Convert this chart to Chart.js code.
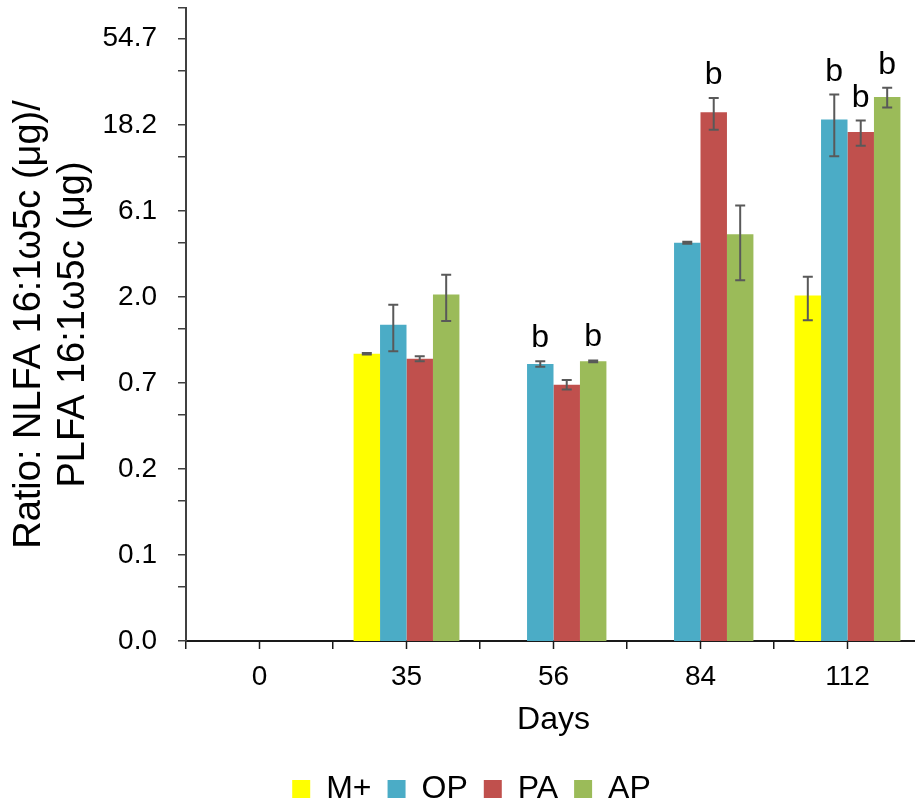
<!DOCTYPE html>
<html>
<head>
<meta charset="utf-8">
<script src="https://cdn.jsdelivr.net/npm/chart.js@4.4.1/dist/chart.umd.min.js"></script>
<style>
html, body { margin: 0; padding: 0; overflow: hidden; background: #fff; }
#wrap { width: 930px; height: 815px; }
</style>
</head>
<body>
<div id="wrap"><canvas id="ratioChart"></canvas></div>
<script>
const days = ['0', '35', '56', '84', '112'];
const seriesNames = ['M+', 'OP', 'PA', 'AP'];
const seriesColors = ['#FFFF00', '#4BACC6', '#C0504D', '#9BBB59'];

// means
const mPlus = [null, 0.98, null, null, 2.06];
const op = [null, 1.42, 0.86, 4.04, 19.5];
const pa = [null, 0.92, 0.66, 21.4, 16.6];
const ap = [null, 2.09, 0.89, 4.5, 26.0];

// error (+/-)
const mPlusErr = [null, 0.01, null, null, 0.56];
const opErr = [null, 0.41, 0.03, 0.05, 7.3];
const paErr = [null, 0.03, 0.04, 4.3, 2.65];
const apErr = [null, 0.6, 0.01, 2.0, 3.3];

// significance letters
const mPlusSig = ['', '', '', '', ''];
const opSig = ['', '', 'b', '', 'b'];
const paSig = ['', '', '', 'b', 'b'];
const apSig = ['', '', 'b', '', 'b'];

const yTickValues = [0.025, 0.075, 0.225, 0.675, 2.025, 6.075, 18.225, 54.675];
const yTickLabels = ['0.0', '0.1', '0.2', '0.7', '2.0', '6.1', '18.2', '54.7'];
const yMinorTicks = [0.05, 0.15, 0.45, 1.35, 4.05, 12.15, 36.45, 81];
const yMin = 0.025;
const yMax = 81;

const FONT = "'Liberation Sans', Arial, sans-serif";

const values = [mPlus, op, pa, ap];
const errors = [mPlusErr, opErr, paErr, apErr];
const letters = [mPlusSig, opSig, paSig, apSig];

const errorBars = {
  id: 'errorBars',
  afterDatasetsDraw(chart) {
    const ctx = chart.ctx;
    const yScale = chart.scales.y;
    const xScale = chart.scales.x;
    const area = chart.chartArea;
    ctx.save();
    // tick marks under each category centre
    ctx.strokeStyle = '#1a1a1a';
    ctx.lineWidth = 1.5;
    days.forEach((d, i) => {
      const x = xScale.getPixelForValue(i);
      ctx.beginPath();
      ctx.moveTo(x, area.bottom);
      ctx.lineTo(x, area.bottom + 8);
      ctx.stroke();
    });
    chart.data.datasets.forEach((ds, d) => {
      const meta = chart.getDatasetMeta(d);
      meta.data.forEach((bar, i) => {
        const v = ds.data[i];
        if (v == null) return;
        const e = ds.errors[i] || 0;
        const top = yScale.getPixelForValue(v + e);
        const bot = yScale.getPixelForValue(v - e);
        ctx.strokeStyle = '#595959';
        ctx.lineWidth = 2;
        ctx.beginPath();
        ctx.moveTo(bar.x, top);
        ctx.lineTo(bar.x, bot);
        ctx.moveTo(bar.x - 5, top);
        ctx.lineTo(bar.x + 5, top);
        ctx.moveTo(bar.x - 5, bot);
        ctx.lineTo(bar.x + 5, bot);
        ctx.stroke();
        const s = ds.letters[i];
        if (s) {
          ctx.fillStyle = '#000';
          ctx.font = '32px ' + FONT;
          ctx.textAlign = 'center';
          ctx.textBaseline = 'alphabetic';
          ctx.fillText(s, bar.x, Math.min(top, bar.y) - 14);
        }
      });
    });
    ctx.restore();
  }
};

const ctx = document.getElementById('ratioChart').getContext('2d');
const chart = new Chart(ctx, {
  type: 'bar',
  data: {
    labels: days,
    datasets: seriesNames.map((name, k) => ({
      label: name,
      data: values[k],
      errors: errors[k],
      letters: letters[k],
      backgroundColor: seriesColors[k],
      borderWidth: 0,
      barPercentage: 1,
      categoryPercentage: 0.72
    }))
  },
  options: {
    responsive: true,
    maintainAspectRatio: false,
    animation: false,
    devicePixelRatio: 1,
    layout: { padding: { top: 8, right: 9, bottom: 0, left: 22 } },
    plugins: {
      legend: {
        position: 'bottom',
        labels: {
          color: '#000',
          font: { family: FONT, size: 32 },
          boxWidth: 18,
          boxHeight: 18,
          padding: 16
        }
      },
      tooltip: { enabled: false }
    },
    scales: {
      x: {
        grid: { display: true, drawOnChartArea: false, drawTicks: true, tickLength: 8, color: '#1a1a1a', lineWidth: 1.5, offset: true },
        border: { display: true, color: '#1a1a1a', width: 2 },
        ticks: { color: '#000', font: { family: FONT, size: 28 }, padding: 11 },
        title: { display: true, text: 'Days', color: '#000', font: { family: FONT, size: 32 }, padding: { top: -4, bottom: 18 } }
      },
      y: {
        type: 'logarithmic',
        min: yMin,
        max: yMax,
        bounds: 'data',
        afterBuildTicks: s => {
          s.ticks = yTickValues.concat(yMinorTicks).sort((a, b) => a - b).map(v => ({ value: v }));
        },
        afterFit: s => {
          s.width = 164;
          s.paddingTop = 0;
          s.paddingBottom = 0;
        },
        ticks: {
          autoSkip: false,
          padding: 21,
          color: '#000',
          font: { family: FONT, size: 28 },
          callback: v => {
            const k = yTickValues.indexOf(v);
            return k >= 0 ? yTickLabels[k] : '';
          }
        },
        grid: { drawOnChartArea: false, drawTicks: true, tickLength: 8, color: '#404040', lineWidth: 1.5 },
        border: { display: true, color: '#404040', width: 2 },
        title: {
          display: true,
          text: ['Ratio: NLFA 16:1ω5c (μg)/', 'PLFA 16:1ω5c (μg)'],
          color: '#000',
          font: { family: FONT, size: 38, lineHeight: 1.15 },
          padding: { top: -14.3, bottom: 0 }
        }
      }
    }
  },
  plugins: [errorBars]
});
</script>
</body>
</html>
